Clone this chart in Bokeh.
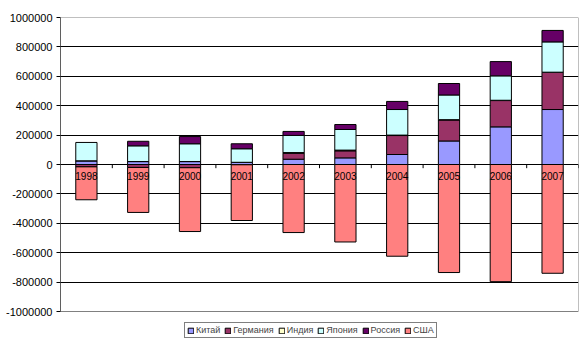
from bokeh.plotting import figure
from bokeh.models import Range1d, FixedTicker, Legend, LegendItem, ColumnDataSource
from bokeh.core.properties import value
from bokeh.embed import file_html
from bokeh.resources import INLINE

years = ["1998", "1999", "2000", "2001", "2002", "2003", "2004", "2005", "2006", "2007"]
series_names = ["Китай", "Германия", "Индия", "Япония", "Россия", "США"]
china   = [25000, 20000, 20000, 15000, 36000, 45000, 68000, 160000, 256000, 374000]
germany = [-14000, -20000, -22000, -2000, 40000, 48000, 129000, 143000, 179000, 252000]
india   = [0, 0, 0, 0, 5000, 5000, 3000, 2000, 2000, 2000]
japan   = [125000, 107000, 121000, 92000, 117000, 140000, 174000, 168000, 166000, 206000]
russia  = [-2000, 31000, 49000, 34000, 27000, 34000, 55000, 78000, 97000, 78000]
usa     = [-224000, -306000, -434000, -379000, -463000, -527000, -624000, -735000, -797000, -740000]
tick_values = [-1000000, -800000, -600000, -400000, -200000, 0, 200000, 400000, 600000, 800000, 1000000]
tick_labels = ["-1000000", "-800000", "-600000", "-400000", "-200000", "0",
               "200000", "400000", "600000", "800000", "1000000"]

colors = ["#9999FF", "#993366", "#FFFFCC", "#CCFFFF", "#660066", "#FF8080"]
all_series = [china, germany, india, japan, russia, usa]

n = len(years)
xs = [i + 0.5 for i in range(n)]

# frame spans from the top of the axis (y=17) to the bottom of the page (y=344);
# the axis itself ends 33 px above the bottom, leaving room for the legend
ymax = tick_values[-1]
ymin_axis = tick_values[0]
axis_px = 294.0
extra_px = 33.0
ymin_frame = ymin_axis - (ymax - ymin_axis) * extra_px / axis_px

p = figure(width=588, height=344, output_backend="svg", toolbar_location=None,
           x_range=Range1d(0, n), y_range=Range1d(ymin_frame, ymax),
           x_axis_location=None, min_border_left=60, min_border_right=10,
           min_border_top=17, min_border_bottom=0)
p.background_fill_color = "white"
p.border_fill_color = "white"
p.outline_line_color = None
p.xgrid.visible = False
p.ygrid.ticker = FixedTicker(ticks=tick_values[1:-1])
p.ygrid.grid_line_color = "black"
p.ygrid.grid_line_width = 1

ax = p.yaxis[0]
ax.ticker = FixedTicker(ticks=tick_values)
ax.major_label_overrides = {v: l for v, l in zip(tick_values, tick_labels)}
ax.major_label_text_font = "Liberation Sans"
ax.major_label_text_font_size = "11px"
ax.major_label_text_color = "black"
ax.major_tick_out = 4
ax.major_tick_in = 0
ax.minor_tick_out = 0
ax.minor_tick_in = 0
ax.major_label_standoff = 4
ax.axis_line_color = None
ax.major_tick_line_color = "black"

# plot-area border (grey) and value axis line (black)
p.quad(left=[0], right=[n], bottom=[ymin_axis], top=[ymax],
       fill_color=None, line_color="#808080", line_width=1)
p.segment(x0=[0], x1=[0], y0=[ymin_axis], y1=[ymax], line_color="black", line_width=1)

# category tick marks on the zero line
bounds = list(range(1, n + 1))
p.segment(x0=bounds, x1=bounds, y0=[0] * len(bounds), y1=[-25000] * len(bounds),
          line_color="black", line_width=1)

pos = [0.0] * n
neg = [0.0] * n
items = []
for name, vals, col in zip(series_names, all_series, colors):
    bottoms, tops = [], []
    for i, v in enumerate(vals):
        if v >= 0:
            bottoms.append(pos[i]); tops.append(pos[i] + v); pos[i] += v
        else:
            bottoms.append(neg[i]); tops.append(neg[i] + v); neg[i] += v
    src = ColumnDataSource(dict(x=xs, top=tops, bottom=bottoms))
    r = p.vbar(x="x", top="top", bottom="bottom", width=0.41, source=src,
               fill_color=col, line_color="black", line_width=1)
    items.append(LegendItem(label=name, renderers=[r]))

p.text(x=xs, y=[0] * n, text=years, text_align="center", text_baseline="top",
       y_offset=7, text_font=value("Liberation Sans"), text_font_size="10px",
       text_color="black")

legend = Legend(items=items, orientation="horizontal", location=(124, 6))
legend.label_text_font = "Liberation Sans"
legend.label_text_font_size = "9px"
legend.label_height = 10
legend.glyph_height = 7
legend.glyph_width = 7
legend.label_standoff = 2
legend.spacing = 4
legend.padding = 2
legend.margin = 0
legend.border_line_color = "black"
legend.border_line_width = 1
legend.background_fill_color = "white"
p.add_layout(legend, "center")

open("out.html", "w").write(file_html(p, INLINE))
